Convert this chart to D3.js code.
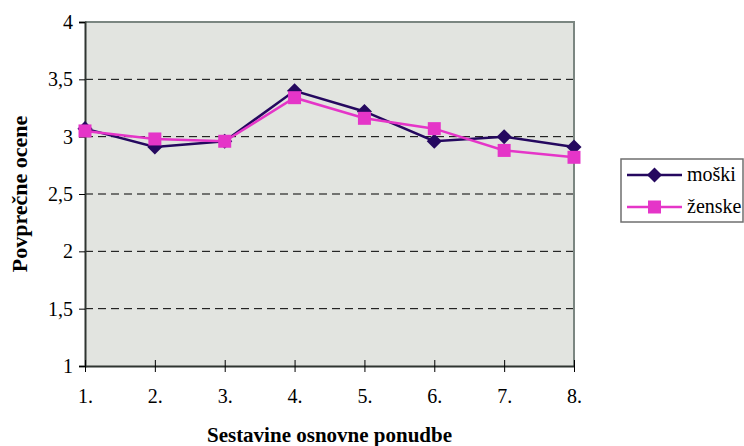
<!DOCTYPE html>
<html>
<head>
<meta charset="utf-8">
<script src="https://cdn.jsdelivr.net/npm/d3@7"></script>
<style>
  html, body { margin: 0; padding: 0; background: #ffffff; }
</style>
</head>
<body>
<svg id="chart" width="744" height="446"></svg>
<script>
const categories = ["1.", "2.", "3.", "4.", "5.", "6.", "7.", "8."];
const moski  = [3.07, 2.91, 2.96, 3.40, 3.22, 2.96, 3.00, 2.91];
const zenske = [3.05, 2.98, 2.96, 3.34, 3.16, 3.07, 2.88, 2.82];
const yTicks = [1, 1.5, 2, 2.5, 3, 3.5, 4];
const seriesNames = ["moški", "ženske"];
const xTitle = "Sestavine osnovne ponudbe";
const yTitle = "Povprečne ocene";

const FONT = "Liberation Serif";
const svg = d3.select("#chart");
const m = { left: 85, right: 574, top: 22, bottom: 366 };

const x = d3.scalePoint().domain(categories).range([m.left, m.right]);
const y = d3.scaleLinear().domain([1, 4]).range([m.bottom, m.top]);

svg.append("rect")
  .attr("x", m.left).attr("y", m.top)
  .attr("width", m.right - m.left).attr("height", m.bottom - m.top)
  .attr("fill", "#e2e4e0");

svg.append("g").selectAll("line")
  .data(yTicks.filter(d => d > 1 && d < 4))
  .join("line")
  .attr("x1", m.left).attr("x2", m.right)
  .attr("y1", d => y(d)).attr("y2", d => y(d))
  .attr("stroke", "#000").attr("stroke-width", 1)
  .attr("stroke-dasharray", "8,5");

svg.append("path")
  .attr("d", `M${m.left},${m.top}H${m.right}V${m.bottom}`)
  .attr("fill", "none").attr("stroke", "#7b8681").attr("stroke-width", 2);

const yAxis = d3.axisLeft(y).tickValues(yTicks)
  .tickFormat(d => String(d).replace(".", ","))
  .tickSize(6).tickPadding(6);
const gy = svg.append("g").attr("transform", `translate(${m.left},0)`).call(yAxis)
  .attr("font-family", FONT).attr("font-size", 20);
gy.select(".domain").attr("stroke", "#2f3531").attr("stroke-width", 2);
gy.selectAll(".tick line").attr("stroke", "#000").attr("stroke-width", 1);
gy.selectAll(".tick text").attr("fill", "#000");

const xAxis = d3.axisBottom(x).tickSizeInner(6).tickSizeOuter(0).tickPadding(17);
const gx = svg.append("g").attr("transform", `translate(0,${m.bottom})`).call(xAxis)
  .attr("font-family", FONT).attr("font-size", 20);
gx.select(".domain").attr("stroke", "#2f3531").attr("stroke-width", 2);
gx.selectAll(".tick line").attr("stroke", "#000").attr("stroke-width", 1).attr("y1", -6);
gx.selectAll(".tick text").attr("fill", "#000").attr("y", 37).attr("dy", 0);

svg.append("text")
  .attr("x", (m.left + m.right) / 2).attr("y", 441.5)
  .attr("text-anchor", "middle").attr("font-weight", "bold").attr("font-size", 21)
  .attr("font-family", FONT)
  .text(xTitle);
svg.append("text")
  .attr("transform", `translate(27,${(m.top + m.bottom) / 2}) rotate(-90)`)
  .attr("text-anchor", "middle").attr("font-weight", "bold").attr("font-size", 22)
  .attr("font-family", FONT)
  .text(yTitle);

const colors = ["#25085f", "#e535c8"];
const line = d3.line().x((d, i) => x(categories[i])).y(d => y(d));

const diamond = d3.symbol().type(d3.symbolDiamond2).size(145);
const square = d3.symbol().type(d3.symbolSquare2).size(215);

svg.append("path").datum(moski).attr("d", line)
  .attr("fill", "none").attr("stroke", colors[0]).attr("stroke-width", 2.5);
svg.append("g").selectAll("path").data(moski).join("path")
  .attr("transform", (d, i) => `translate(${x(categories[i])},${y(d)})`)
  .attr("d", diamond).attr("fill", colors[0]);

svg.append("path").datum(zenske).attr("d", line)
  .attr("fill", "none").attr("stroke", colors[1]).attr("stroke-width", 2.5);
svg.append("g").selectAll("path").data(zenske).join("path")
  .attr("transform", (d, i) => `translate(${x(categories[i])},${y(d)})`)
  .attr("d", square).attr("fill", colors[1]);

const lg = svg.append("g");
lg.append("rect").attr("x", 621).attr("y", 159).attr("width", 122).attr("height", 63)
  .attr("fill", "#fff").attr("stroke", "#6f6f6f").attr("stroke-width", 1.5);
const syms = [diamond, square];
seriesNames.forEach((name, i) => {
  const cy = 175 + i * 32;
  lg.append("line").attr("x1", 627).attr("x2", 682).attr("y1", cy).attr("y2", cy)
    .attr("stroke", colors[i]).attr("stroke-width", 2.5);
  lg.append("path").attr("transform", `translate(654.5,${cy})`)
    .attr("d", syms[i]).attr("fill", colors[i]);
  lg.append("text").attr("x", 687).attr("y", cy + 6)
    .attr("font-size", 20).attr("fill", "#000").attr("font-family", FONT).text(name);
});
</script>
</body>
</html>
